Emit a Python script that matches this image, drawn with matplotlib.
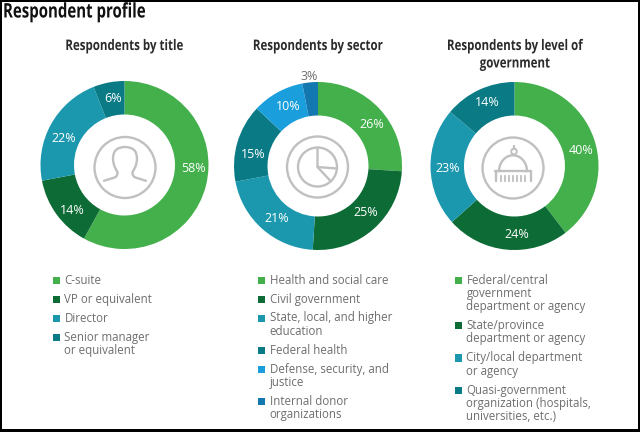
import numpy as np
import matplotlib
matplotlib.use("Agg")
import matplotlib.pyplot as plt
from matplotlib.patches import Rectangle, Circle, PathPatch
from matplotlib.path import Path
from matplotlib.patheffects import AbstractPathEffect
from matplotlib.transforms import Affine2D

title_labels = ["C-suite", "VP or equivalent", "Director", "Senior manager\nor equivalent"]
title_values = [58, 14, 22, 6]
sector_labels = ["Health and social care", "Civil government", "State, local, and higher\neducation",
                 "Federal health", "Defense, security, and\njustice", "Internal donor\norganizations"]
sector_values = [26, 25, 21, 15, 10, 3]
gov_labels = ["Federal/central\ngovernment\ndepartment or agency", "State/province\ndepartment or agency",
              "City/local department\nor agency", "Quasi-government\norganization (hospitals,\nuniversities, etc.)"]
gov_values = [40, 24, 23, 14]

green = "#43b04c"
dark_green = "#0d6b36"
teal = "#1b97ae"
dark_teal = "#0a7a85"
sky = "#1a9fdc"
blue = "#1478b0"
title_colors = [green, dark_green, teal, dark_teal]
sector_colors = [green, dark_green, teal, dark_teal, sky, blue]
gov_colors = [green, dark_green, teal, dark_teal]

# where the % labels sit in the picture, they are hand placed there, not mid wedge
title_pct_xy = [(194, 168), (72, 210), (64, 139), (113, 98)]
sector_pct_xy = [(372, 125), (366, 213), (277, 218), (253, 154), (288, 107), (309, 76)]
gov_pct_xy = [(581, 150), (517, 234), (448, 168), (487, 102)]

W, H = 640, 432
GRAY = "#c0c0c0"
TEXT = "#6e6e6e"
HEAD = "#2b2b2b"
plt.rcParams["font.family"] = ["Open Sans", "DejaVu Sans"]


class Squeeze(AbstractPathEffect):
    # no condensed Open Sans here, so squeeze the glyphs sideways around x0
    def __init__(self, sx, x0):
        super().__init__()
        self.sx = sx
        self.x0 = x0

    def draw_path(self, renderer, gc, tpath, affine, rgbFace=None):
        squeeze = Affine2D().translate(-self.x0, 0).scale(self.sx, 1).translate(self.x0, 0)
        renderer.draw_path(gc, tpath, affine + squeeze, rgbFace)


fig = plt.figure(figsize=(6.4, 4.32), dpi=100, facecolor="black")


def layer(z):
    ax = fig.add_axes([0, 0, 1, 1], zorder=z)
    ax.set_xlim(0, W)
    ax.set_ylim(H, 0)
    ax.axis("off")
    return ax


under = layer(0)
under.add_patch(Rectangle((2, 2), 635.5, 427, fc="white", ec="none"))
top = layer(2)


def donut(cx, cy, values, colors, pct_xy):
    r = 84
    ax = fig.add_axes([(cx - r) / W, 1 - (cy + r) / H, 2 * r / W, 2 * r / H], zorder=1)
    ax.pie(values, colors=colors, startangle=90, counterclock=False, radius=1,
           wedgeprops=dict(width=33.5 / 84, linewidth=0))
    ax.set_xlim(-1, 1)
    ax.set_ylim(-1, 1)
    for v, (x, y) in zip(values, pct_xy):
        top.text(x, y, f"{v}%", ha="center", va="center", fontsize=9,
                 color=TEXT if v < 5 else "white")


def legend(x, y, labels, colors):
    for lab, col in zip(labels, colors):
        top.add_patch(Rectangle((x, y - 3.5), 7.3, 7.3, fc=col, ec="none"))
        lines = lab.split("\n")
        for i, line in enumerate(lines):
            top.text(x + 11.5, y + i * 13.3, line, fontsize=8.3, color=TEXT, va="center", ha="left")
        y += len(lines) * 13.3 + 5.7


def heading(x, y, s, size, sx, ha="center", color=HEAD):
    top.text(x, y, s, fontsize=size, fontweight="bold", color=color, ha=ha, va="center",
             path_effects=[Squeeze(sx, x)])


LW = 1.7
ic_kw = dict(color=GRAY, lw=LW, solid_capstyle="round", solid_joinstyle="round", zorder=3)


def ring(cx, cy, r=30.5):
    top.add_patch(Circle((cx, cy), r, fc="none", ec=GRAY, lw=LW, zorder=3))


# person icon
cx, cy = 125, 167.5
ring(cx, cy)
half = [(-21, 13.3), (-12, 10.5), (-7, 9.5), (-7.5, 4.5), (-12, -2), (-12, -9), (-12, -20.5), (0, -20.5)]
pts = half + [(-x, y) for x, y in half[-2::-1]]
codes = [Path.MOVETO, Path.LINETO] + [Path.CURVE3] * 6 + [Path.CURVE3] * 6 + [Path.LINETO]
top.add_patch(PathPatch(Path(np.array(pts) + [cx, cy], codes), fc="none", ec=GRAY, lw=LW,
                        capstyle="round", zorder=3))

# pie icon
cx, cy = 317.5, 167
ring(cx, cy)
top.add_patch(Circle((cx, cy), 19.5, fc="none", ec=GRAY, lw=LW, zorder=3))
top.plot([cx, cx, cx + 19], [cy - 19, cy, cy + 1.5], **ic_kw)
top.plot([cx, cx + 13], [cy, cy + 14], **ic_kw)

# capitol icon
cx, cy = 513, 168
ring(cx, cy)
t = np.linspace(np.pi, 2 * np.pi, 40)
top.plot(cx + 14 * np.cos(t), cy + 3.3 + 16 * np.sin(t), **ic_kw)
top.plot([cx - 18, cx + 18], [cy + 3.3, cy + 3.3], **ic_kw)
top.plot([cx - 17.5, cx - 17.5], [cy + 3.3, cy + 13], **ic_kw)
top.plot([cx + 17.5, cx + 17.5], [cy + 3.3, cy + 13], **ic_kw)
for dx in np.arange(-12, 13, 4):
    top.plot([cx + dx, cx + dx], [cy + 7.5, cy + 12.5], color=GRAY, lw=1.3, zorder=3)
top.add_patch(Circle((cx + 1, cy - 16.5), 2.8, fc="none", ec=GRAY, lw=1.4, zorder=3))
top.plot([cx + 1, cx + 1], [cy - 22, cy - 19.5], **ic_kw)

donut(124.5, 165, title_values, title_colors, title_pct_xy)
donut(318, 166, sector_values, sector_colors, sector_pct_xy)
donut(514.5, 166, gov_values, gov_colors, gov_pct_xy)

heading(3, 12.5, "Respondent profile", 14.5, 0.745, ha="left", color="#111111")
heading(124.5, 46, "Respondents by title", 10.5, 0.79)
heading(318, 46, "Respondents by sector", 10.5, 0.79)
heading(515, 46, "Respondents by level of", 10.5, 0.79)
heading(515, 63.5, "government", 10.5, 0.79)

legend(53, 280, title_labels, title_colors)
legend(258, 280, sector_labels, sector_colors)
legend(455, 280, gov_labels, gov_colors)

fig.savefig("out.png", dpi=100, facecolor="black")
